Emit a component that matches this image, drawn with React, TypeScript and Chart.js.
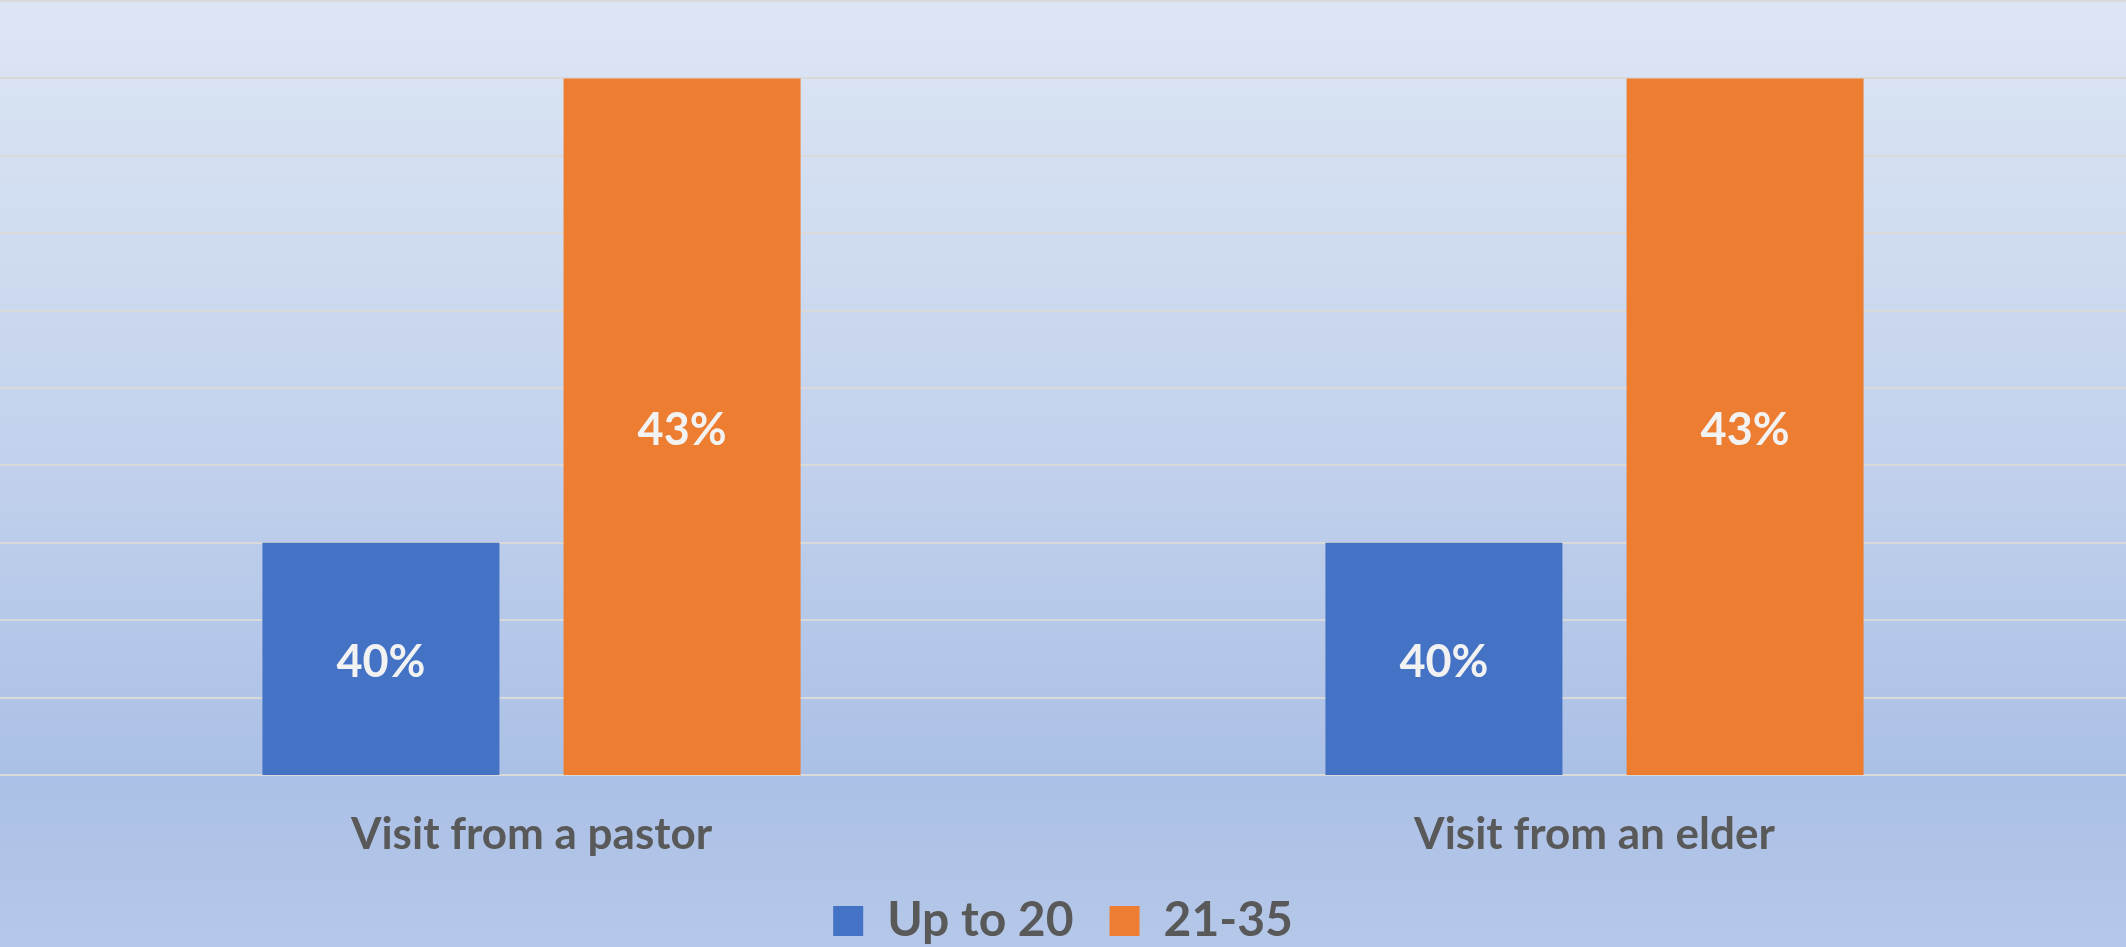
import React, { useEffect, useRef } from "react";
import { Chart, registerables } from "chart.js";

Chart.register(...registerables);

const categories = ["Visit from a pastor", "Visit from an elder"];
const seriesNames = ["Up to 20", "21-35"];
const upTo20Values = [40, 40];
const age21to35Values = [43, 43];
const seriesColors = ["#4472C4", "#ED7D31"];
const yMin = 38.5;
const yMax = 43.5;
const yStep = 0.5;

const FONT = "Lato, 'Open Sans', sans-serif";

const backgroundPlugin = {
  id: "bgGradient",
  beforeDraw(chart: any) {
    const { ctx, width, height } = chart;
    const g = ctx.createLinearGradient(0, 0, 0, height);
    g.addColorStop(0, "#dde6f4");
    g.addColorStop(0.45, "#c4d3ed");
    g.addColorStop(0.82, "#abc0e6");
    g.addColorStop(1, "#b5c8e9");
    ctx.save();
    ctx.fillStyle = g;
    ctx.fillRect(0, 0, width, height);
    ctx.restore();
  },
};

const valueLabelPlugin = {
  id: "valueLabels",
  afterDraw(chart: any) {
    const ctx = chart.ctx;
    const yScale = chart.scales.y;
    ctx.save();
    ctx.font = "bold 45px " + FONT;
    ctx.fillStyle = "#f2f2f2";
    ctx.textAlign = "center";
    ctx.textBaseline = "middle";
    chart.data.datasets.forEach((ds: any, di: number) => {
      const meta = chart.getDatasetMeta(di);
      meta.data.forEach((el: any, i: number) => {
        const v = ds.data[i];
        const props = el.getProps(["x"], true);
        const top = yScale.getPixelForValue(v);
        const bottom = yScale.getPixelForValue(yScale.min);
        ctx.fillText(String(v) + "%", props.x, (top + bottom) / 2 + 4);
      });
    });
    ctx.restore();
  },
};

export default function App() {
  const ref = useRef<HTMLCanvasElement | null>(null);

  useEffect(() => {
    if (!ref.current) return;
    const chart = new Chart(ref.current, {
      type: "bar",
      data: {
        labels: categories,
        datasets: [
          {
            label: seriesNames[0],
            data: upTo20Values,
            backgroundColor: seriesColors[0],
            categoryPercentage: 0.5666,
            barPercentage: 0.787,
          },
          {
            label: seriesNames[1],
            data: age21to35Values,
            backgroundColor: seriesColors[1],
            categoryPercentage: 0.5666,
            barPercentage: 0.787,
          },
        ],
      },
      options: {
        animation: false,
        responsive: false,
        maintainAspectRatio: false,
        layout: { padding: { top: 1, left: 0, right: 0, bottom: 0 } },
        plugins: {
          tooltip: { enabled: false },
          legend: {
            position: "bottom",
            maxHeight: 86,
            labels: {
              boxWidth: 30,
              boxHeight: 30,
              padding: 36,
              color: "#595959",
              font: { family: FONT, size: 48, weight: "bold" },
            },
          },
        },
        scales: {
          x: {
            grid: { display: false, drawTicks: false },
            border: { display: false },
            ticks: {
              color: "#595959",
              padding: 33,
              font: { family: FONT, size: 44, weight: "bold" },
            },
            afterFit: (scale: any) => {
              scale.height = 86;
            },
          },
          y: {
            min: yMin,
            max: yMax,
            border: { display: false },
            grid: { color: "#d9d9d9", lineWidth: 2, drawTicks: false },
            ticks: { display: false, stepSize: yStep },
          },
        },
      },
      plugins: [backgroundPlugin, valueLabelPlugin],
    });
    return () => chart.destroy();
  }, []);

  return (
    <div style={{ position: "fixed", left: 0, top: 0, width: 2126, height: 947 }}>
      <canvas ref={ref} width={2126} height={947} style={{ display: "block" }} />
    </div>
  );
}
